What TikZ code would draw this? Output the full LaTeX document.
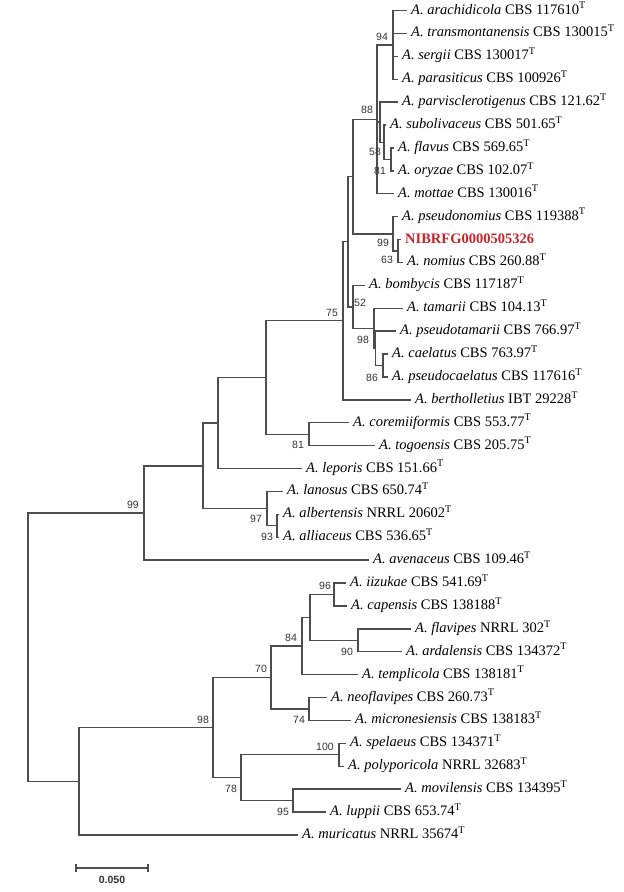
\documentclass[tikz,border=0pt]{standalone}
\usepackage{fontspec}
\setmainfont{Liberation Serif}
\newfontfamily\bsfont{Liberation Sans}
\definecolor{branch}{HTML}{4D4D4D}
\definecolor{bslab}{HTML}{333333}
\definecolor{nib}{HTML}{C8242C}
\newcommand{\taxon}[2]{\textit{A.~#1} #2\textsuperscript{T}}
\tikzset{
  leaf/.style={anchor=west, inner xsep=4pt, inner ysep=0pt, text height=9pt, text depth=2pt, font=\fontsize{14.5}{16}\selectfont},
  bs/.style={font=\bsfont\fontsize{10.5}{12}\selectfont, text=bslab, inner sep=0pt},
  edge/.style={draw=branch, line width=1.4pt},
}
\begin{document}
\begin{tikzpicture}[x=1pt,y=-1pt]
\fill[white] (0,0) rectangle (624,892);
\useasboundingbox (0,0) rectangle (624,892);
% internal nodes
\coordinate (n94) at (393,44.85);
\coordinate (n81a) at (391,159.35);
\coordinate (n58) at (384,142.2);
\coordinate (nP) at (380,122.1);
\coordinate (n88) at (377,119.3);
\coordinate (n63) at (398,250.95);
\coordinate (n99a) at (393,233.8);
\coordinate (nD) at (353,176.5);
\coordinate (n86) at (383,365.45);
\coordinate (nQ) at (375.5,348.3);
\coordinate (n98a) at (374,328.2);
\coordinate (n52) at (353,306.8);
\coordinate (nE) at (348,241.6);
\coordinate (n75) at (343,320.7);
\coordinate (n81b) at (309,434.2);
\coordinate (nC) at (266,377.4);
\coordinate (nB) at (218,423.0);
\coordinate (n93) at (277,525.75);
\coordinate (n97) at (267,508.6);
\coordinate (nA) at (203,465.8);
\coordinate (n99) at (144,513.0);
\coordinate (n96) at (334,594.45);
\coordinate (n90) at (358,640.25);
\coordinate (nX) at (310,617.35);
\coordinate (n84) at (302,646.0);
\coordinate (n74) at (309,708.95);
\coordinate (n70) at (271,677.5);
\coordinate (n100) at (339,754.75);
\coordinate (n95) at (293,800.55);
\coordinate (n78) at (241,777.65);
\coordinate (n98b) at (213,727.6);
\coordinate (nL) at (79,781.2);
\coordinate (root) at (28,647.1);
% leaves
\node[leaf] (l1) at (407,10.5) {\taxon{arachidicola}{CBS 117610}};
\node[leaf] (l2) at (407,33.4) {\taxon{transmontanensis}{CBS 130015}};
\node[leaf] (l3) at (398,56.3) {\taxon{sergii}{CBS 130017}};
\node[leaf] (l4) at (398,79.2) {\taxon{parasiticus}{CBS 100926}};
\node[leaf] (l5) at (398,102.1) {\taxon{parvisclerotigenus}{CBS 121.62}};
\node[leaf] (l6) at (386,125.0) {\taxon{subolivaceus}{CBS 501.65}};
\node[leaf] (l7) at (394,147.9) {\taxon{flavus}{CBS 569.65}};
\node[leaf] (l8) at (394,170.8) {\taxon{oryzae}{CBS 102.07}};
\node[leaf] (l9) at (394,193.7) {\taxon{mottae}{CBS 130016}};
\node[leaf] (l10) at (398,216.6) {\taxon{pseudonomius}{CBS 119388}};
\node[leaf] (l11) at (401,239.5) {\bfseries\color{nib}NIBRFG0000505326};
\node[leaf] (l12) at (403,262.4) {\taxon{nomius}{CBS 260.88}};
\node[leaf] (l13) at (365,285.3) {\taxon{bombycis}{CBS 117187}};
\node[leaf] (l14) at (403,308.2) {\taxon{tamarii}{CBS 104.13}};
\node[leaf] (l15) at (396,331.1) {\taxon{pseudotamarii}{CBS 766.97}};
\node[leaf] (l16) at (388,354.0) {\taxon{caelatus}{CBS 763.97}};
\node[leaf] (l17) at (388,376.9) {\taxon{pseudocaelatus}{CBS 117616}};
\node[leaf] (l18) at (411,399.8) {\taxon{bertholletius}{IBT 29228}};
\node[leaf] (l19) at (349,422.7) {\taxon{coremiiformis}{CBS 553.77}};
\node[leaf] (l20) at (375,445.6) {\taxon{togoensis}{CBS 205.75}};
\node[leaf] (l21) at (302,468.5) {\taxon{leporis}{CBS 151.66}};
\node[leaf] (l22) at (283,491.4) {\taxon{lanosus}{CBS 650.74}};
\node[leaf] (l23) at (279,514.3) {\taxon{albertensis}{NRRL 20602}};
\node[leaf] (l24) at (279,537.2) {\taxon{alliaceus}{CBS 536.65}};
\node[leaf] (l25) at (369,560.1) {\taxon{avenaceus}{CBS 109.46}};
\node[leaf] (l26) at (346,583.0) {\taxon{iizukae}{CBS 541.69}};
\node[leaf] (l27) at (347,605.9) {\taxon{capensis}{CBS 138188}};
\node[leaf] (l28) at (411,628.8) {\taxon{flavipes}{NRRL 302}};
\node[leaf] (l29) at (402,651.7) {\taxon{ardalensis}{CBS 134372}};
\node[leaf] (l30) at (358,674.6) {\taxon{templicola}{CBS 138181}};
\node[leaf] (l31) at (327,697.5) {\taxon{neoflavipes}{CBS 260.73}};
\node[leaf] (l32) at (351,720.4) {\taxon{micronesiensis}{CBS 138183}};
\node[leaf] (l33) at (346,743.3) {\taxon{spelaeus}{CBS 134371}};
\node[leaf] (l34) at (344,766.2) {\taxon{polyporicola}{NRRL 32683}};
\node[leaf] (l35) at (401,789.1) {\taxon{movilensis}{CBS 134395}};
\node[leaf] (l36) at (326,812.0) {\taxon{luppii}{CBS 653.74}};
\node[leaf] (l37) at (298,834.9) {\taxon{muricatus}{NRRL 35674}};
% edges
\path[edge]
  (n94) |- (l1.west) (n94) |- (l2.west) (n94) |- (l3.west) (n94) |- (l4.west)
  (n81a) |- (l7.west) (n81a) |- (l8.west)
  (n58) |- (l6.west) (n58) |- (n81a)
  (nP) |- (l5.west) (nP) |- (n58)
  (n88) |- (n94) (n88) |- (nP) (n88) |- (l9.west)
  (n63) |- (l11.west) (n63) |- (l12.west)
  (n99a) |- (l10.west) (n99a) |- (n63)
  (nD) |- (n88) (nD) |- (n99a)
  (n86) |- (l16.west) (n86) |- (l17.west)
  (nQ) |- (l15.west) (nQ) |- (n86)
  (n98a) |- (l14.west) (n98a) |- (nQ)
  (n52) |- (l13.west) (n52) |- (n98a)
  (nE) |- (nD) (nE) |- (n52)
  (n75) |- (nE) (n75) |- (l18.west)
  (n81b) |- (l19.west) (n81b) |- (l20.west)
  (nC) |- (n75) (nC) |- (n81b)
  (nB) |- (nC) (nB) |- (l21.west)
  (n93) |- (l23.west) (n93) |- (l24.west)
  (n97) |- (l22.west) (n97) |- (n93)
  (nA) |- (nB) (nA) |- (n97)
  (n99) |- (nA) (n99) |- (l25.west)
  (n96) |- (l26.west) (n96) |- (l27.west)
  (n90) |- (l28.west) (n90) |- (l29.west)
  (nX) |- (n96) (nX) |- (n90)
  (n84) |- (nX) (n84) |- (l30.west)
  (n74) |- (l31.west) (n74) |- (l32.west)
  (n70) |- (n84) (n70) |- (n74)
  (n100) |- (l33.west) (n100) |- (l34.west)
  (n95) |- (l35.west) (n95) |- (l36.west)
  (n78) |- (n100) (n78) |- (n95)
  (n98b) |- (n70) (n98b) |- (n78)
  (nL) |- (n98b) (nL) |- (l37.west)
  (root) |- (n99) (root) |- (nL);
% bootstrap values
\node[bs] (b94) at (382,37) {94};
\node[bs] (b88) at (367,110) {88};
\node[bs] (b58) at (375,152) {58};
\node[bs] (b81a) at (380,171) {81};
\node[bs] (b99a) at (383,243) {99};
\node[bs] (b63) at (387,260) {63};
\node[bs] (b52) at (360,303) {52};
\node[bs] (b98a) at (363,340) {98};
\node[bs] (b86) at (372,378) {86};
\node[bs] (b75) at (332,313) {75};
\node[bs] (b81b) at (298,445) {81};
\node[bs] (b97) at (256,519) {97};
\node[bs] (b93) at (267,537) {93};
\node[bs] (b99) at (133,505) {99};
\node[bs] (b96) at (325,586) {96};
\node[bs] (b84) at (291,638) {84};
\node[bs] (b90) at (347,652) {90};
\node[bs] (b70) at (261,669) {70};
\node[bs] (b74) at (299,720) {74};
\node[bs] (b98b) at (203,720) {98};
\node[bs] (b100) at (325,747) {100};
\node[bs] (b78) at (231,789) {78};
\node[bs] (b95) at (283,812) {95};
% scale bar
\coordinate (sb1) at (76,868);
\coordinate (sb2) at (148,868);
\draw[edge] (sb1) -- (sb2);
\draw[edge] ([yshift=-4pt]sb1) -- ([yshift=4pt]sb1);
\draw[edge] ([yshift=-4pt]sb2) -- ([yshift=4pt]sb2);
\node[bs, font=\bsfont\bfseries\fontsize{10.5}{12}\selectfont] (sbl) at (112,880) {0.050};
\end{tikzpicture}
\end{document}
